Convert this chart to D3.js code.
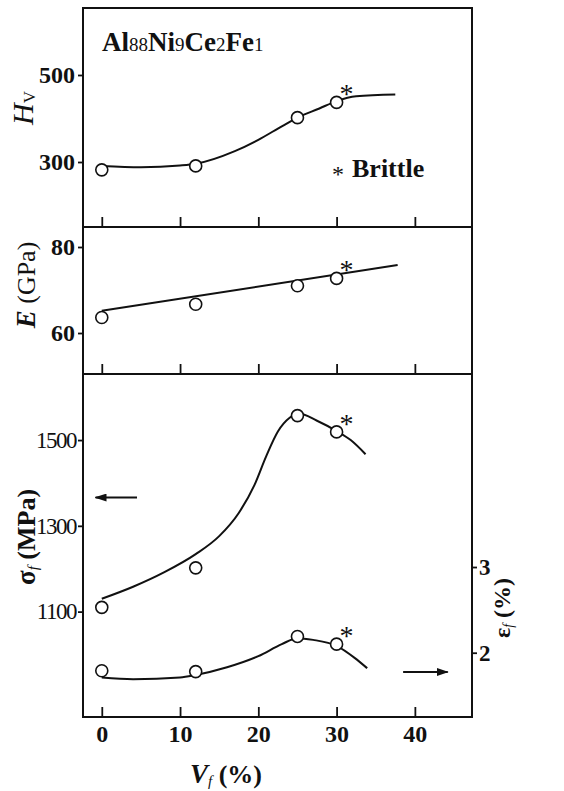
<!DOCTYPE html>
<html><head><meta charset="utf-8">
<script src="https://cdn.jsdelivr.net/npm/d3@7"></script>
<style>body{margin:0;background:#fff}svg{display:block}</style>
</head><body>
<script>
// ---- data ----
const vf = [0, 12, 25, 30];
const hvVals = [282, 291, 402, 437];
const eVals = [63.6, 66.7, 71.0, 72.7];
const sigmaVals = [1110, 1202, 1557, 1519];
const epsVals = [1.79, 1.78, 2.19, 2.10];
const brittle = [false, false, false, true];

const hvCurveX = [0, 5, 10, 12, 17, 20, 23, 25, 27.8, 30, 32.5, 37.5];
const hvCurveY = [291, 288, 292, 296, 325, 351, 382, 402, 423, 440, 451, 455];
const eLineX = [0, 37.8];
const eLineY = [65.2, 75.8];
const sigCurveX = [0, 4, 8, 12, 15, 17.5, 19.5, 21, 22.5, 24, 25.2, 27.5, 30, 31.8, 33.7];
const sigCurveY = [1130, 1158, 1192, 1234, 1276, 1330, 1395, 1462, 1520, 1552, 1562, 1545, 1521, 1500, 1467];
const epsCurveX = [0, 4, 10, 12, 16, 20, 23, 25, 27, 30, 32.3, 33.9];
const epsCurveY = [1.71, 1.69, 1.71, 1.74, 1.83, 1.96, 2.10, 2.17, 2.15, 2.08, 1.94, 1.82];

const xTicks = [0, 10, 20, 30, 40];
const hvTicks = [300, 500];
const eTicks = [60, 80];
const sigmaTicks = [1100, 1300, 1500];
const epsTicks = [2, 3];

// ---- layout ----
const W = 564, H = 791;
const L = 83, R = 472;
const p1 = [8, 227], p2 = [227, 374], p3 = [374, 717];
const serif = "'Liberation Serif','Times New Roman',serif";

const svg = d3.select("body").append("svg").attr("width", W).attr("height", H)
  .style("font-family", serif);

const defs = svg.append("defs");
defs.append("marker").attr("id", "ah").attr("viewBox", "0 0 12 8")
  .attr("refX", 11).attr("refY", 4).attr("markerWidth", 12).attr("markerHeight", 8)
  .attr("markerUnits", "userSpaceOnUse").attr("orient", "auto")
  .append("path").attr("d", "M0,0L12,4L0,8Z").attr("fill", "#111");

const x = d3.scaleLinear().domain([-2.4, 47.3]).range([L, R]);
const yHv = d3.scaleLinear().domain([150.6, 654]).range([p1[1], p1[0]]);
const yE = d3.scaleLinear().domain([50.47, 84.65]).range([p2[1], p2[0]]);
const ySig = d3.scaleLinear().domain([854.3, 1654]).range([p3[1], p3[0]]);
const yEps = d3.scaleLinear().domain([1.25, 5.252]).range([p3[1], p3[0]]);

// frames
[p1, p2, p3].forEach(p => {
  svg.append("rect").attr("x", L).attr("y", p[0]).attr("width", R - L).attr("height", p[1] - p[0])
    .attr("fill", "none").attr("stroke", "#111").attr("stroke-width", 2);
});

function styleAxis(g, size, weight, ls) {
  g.select(".domain").remove();
  g.attr("font-family", serif).attr("font-size", size);
  g.selectAll("line").attr("stroke", "#111").attr("stroke-width", 1.8);
  g.selectAll("text").attr("fill", "#111").attr("font-weight", weight)
    .attr("letter-spacing", ls || 0);
}
const fmt = d3.format("d");

// x ticks (inside, on bottom of each panel)
[p1, p2].forEach(p => {
  const g = svg.append("g").attr("transform", `translate(0,${p[1]})`)
    .call(d3.axisBottom(x).tickValues(xTicks).tickSize(-10).tickFormat(""));
  styleAxis(g, 24, "bold");
});
const gx = svg.append("g").attr("transform", `translate(0,${p3[1]})`)
  .call(d3.axisBottom(x).tickValues(xTicks).tickSize(-10).tickPadding(8).tickFormat(fmt));
styleAxis(gx, 24, "bold");

// left axes
const gHv = svg.append("g").attr("transform", `translate(${L},0)`)
  .call(d3.axisLeft(yHv).tickValues(hvTicks).tickSize(5).tickPadding(3).tickFormat(fmt));
styleAxis(gHv, 24, "bold");
const gE = svg.append("g").attr("transform", `translate(${L},0)`)
  .call(d3.axisLeft(yE).tickValues(eTicks).tickSize(5).tickPadding(3).tickFormat(fmt));
styleAxis(gE, 24, "bold");
const gS = svg.append("g").attr("transform", `translate(${L},0)`)
  .call(d3.axisLeft(ySig).tickValues(sigmaTicks).tickSize(5).tickPadding(2).tickFormat(fmt));
styleAxis(gS, 23, "normal", -1.5);
const gEps = svg.append("g").attr("transform", `translate(${R},0)`)
  .call(d3.axisRight(yEps).tickValues(epsTicks).tickSize(5).tickPadding(2).tickFormat(fmt));
styleAxis(gEps, 23, "bold");

// curves
const line = d3.line().curve(d3.curveMonotoneX);
function drawCurve(xs, ys, ys_scale) {
  svg.append("path").attr("d", line(xs.map((v, i) => [x(v), ys_scale(ys[i])])))
    .attr("fill", "none").attr("stroke", "#111").attr("stroke-width", 2);
}
drawCurve(hvCurveX, hvCurveY, yHv);
svg.append("path").attr("d", d3.line()(eLineX.map((v, i) => [x(v), yE(eLineY[i])])))
  .attr("fill", "none").attr("stroke", "#111").attr("stroke-width", 2);
drawCurve(sigCurveX, sigCurveY, ySig);
drawCurve(epsCurveX, epsCurveY, yEps);

// points
function drawPoints(vals, ys) {
  svg.append("g").selectAll("circle").data(vf).join("circle")
    .attr("cx", d => x(d)).attr("cy", (d, i) => ys(vals[i])).attr("r", 6)
    .attr("fill", "#fff").attr("stroke", "#111").attr("stroke-width", 1.6);
  svg.append("g").selectAll("text").data(vf.filter((d, i) => brittle[i])).join("text")
    .attr("x", d => x(d) + 10).attr("y", d => ys(vals[vf.indexOf(d)]) + 1)
    .attr("text-anchor", "middle").attr("font-size", 28).attr("fill", "#111").text("*");
}
drawPoints(hvVals, yHv);
drawPoints(eVals, yE);
drawPoints(sigmaVals, ySig);
drawPoints(epsVals, yEps);

// title
const t = svg.append("text").attr("x", 102).attr("y", 51).attr("font-size", 27)
  .attr("fill", "#111");
[["Al", 0], ["88", 1], ["Ni", 0], ["9", 1], ["Ce", 0], ["2", 1], ["Fe", 0], ["1", 1]].forEach(([s, sub]) => {
  t.append("tspan").attr("font-size", sub ? 19 : 27).attr("font-weight", sub ? "normal" : "bold").text(s);
});

// legend
svg.append("text").attr("x", 338).attr("y", 182).attr("text-anchor", "middle")
  .attr("font-size", 24).attr("fill", "#111").text("*");
svg.append("text").attr("x", 352).attr("y", 177).attr("font-size", 26).attr("font-weight", "bold")
  .attr("fill", "#111").text("Brittle");

// axis titles
function rotLabel(cx, cy, parts) {
  const tt = svg.append("text").attr("transform", `translate(${cx},${cy}) rotate(-90)`)
    .attr("text-anchor", "middle").attr("fill", "#111");
  parts.forEach(p => {
    const ts = tt.append("tspan").attr("font-size", p.size).text(p.t)
      .attr("font-weight", p.w || "bold");
    if (p.it) ts.attr("font-style", "italic");
    if (p.dy) ts.attr("dy", p.dy);
  });
  return tt;
}
rotLabel(33, 108, [{t: "H", size: 30, it: true, w: "normal"}, {t: "V", size: 17, dy: 2, w: "normal"}]);
rotLabel(35, 285, [{t: "E", size: 27, it: true}, {t: " (GPa)", size: 26, w: "normal"}]);
rotLabel(35, 537, [{t: "σ", size: 27}, {t: "f", size: 15, it: true, dy: 3, w: "normal"}, {t: " (MPa)", size: 26, dy: -3}]);
rotLabel(510, 608, [{t: "ε", size: 24}, {t: "f", size: 14, it: true, dy: 3, w: "normal"}, {t: " (%)", size: 24, dy: -3}]);

const xt = svg.append("text").attr("x", 226).attr("y", 783).attr("text-anchor", "middle").attr("fill", "#111");
xt.append("tspan").attr("font-size", 27).attr("font-style", "italic").attr("font-weight", "bold").text("V");
xt.append("tspan").attr("font-size", 15).attr("font-style", "italic").attr("dy", 3).text("f");
xt.append("tspan").attr("font-size", 26).attr("font-weight", "bold").attr("dy", -3).text(" (%)");

// arrows
svg.append("line").attr("x1", x(4.5)).attr("x2", x(-0.8)).attr("y1", ySig(1366)).attr("y2", ySig(1366))
  .attr("stroke", "#111").attr("stroke-width", 2).attr("marker-end", "url(#ah)");
svg.append("line").attr("x1", x(38.5)).attr("x2", x(44.2)).attr("y1", yEps(1.775)).attr("y2", yEps(1.775))
  .attr("stroke", "#111").attr("stroke-width", 2).attr("marker-end", "url(#ah)");
</script>
</body></html>
